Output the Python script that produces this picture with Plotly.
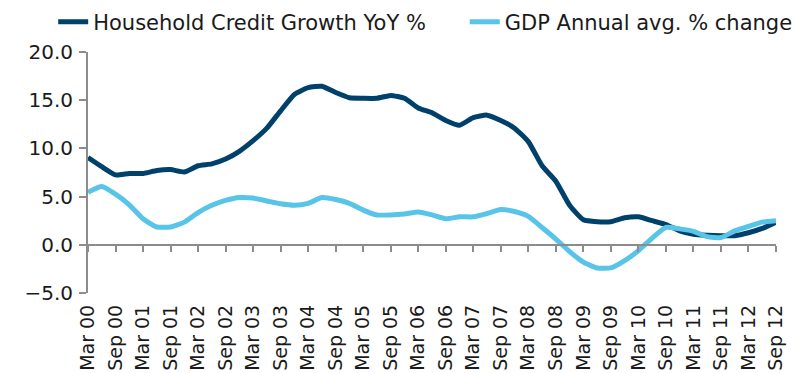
import plotly.graph_objects as go

# quarterly observations, Mar 2000 .. Sep 2012
years = ['00', '01', '02', '03', '04', '05', '06', '07', '08', '09', '10', '11', '12']
months = ['Mar', 'Jun', 'Sep', 'Dec']
quarters = [f'{m} {y}' for y in years for m in months][:51]

tick_labels = ['Mar 00', 'Sep 00', 'Mar 01', 'Sep 01', 'Mar 02', 'Sep 02', 'Mar 03',
               'Sep 03', 'Mar 04', 'Sep 04', 'Mar 05', 'Sep 05', 'Mar 06', 'Sep 06',
               'Mar 07', 'Sep 07', 'Mar 08', 'Sep 08', 'Mar 09', 'Sep 09', 'Mar 10',
               'Sep 10', 'Mar 11', 'Sep 11', 'Mar 12', 'Sep 12']

credit_growth = [9.05, 8.1, 7.25, 7.4, 7.4, 7.7, 7.8, 7.55, 8.2, 8.4,
                 8.9, 9.7, 10.8, 12.1, 13.9, 15.6, 16.3, 16.45, 15.8, 15.25,
                 15.2, 15.2, 15.5, 15.2, 14.2, 13.7, 12.9, 12.4, 13.2, 13.45,
                 12.9, 12.1, 10.7, 8.2, 6.6, 4.1, 2.6, 2.4, 2.4, 2.8,
                 2.9, 2.5, 2.1, 1.45, 1.1, 1.0, 0.95, 0.95, 1.25, 1.7, 2.35]

gdp_change = [5.45, 6.05, 5.25, 4.15, 2.7, 1.85, 1.85, 2.35, 3.35, 4.1,
              4.6, 4.9, 4.85, 4.55, 4.25, 4.1, 4.3, 4.9, 4.7, 4.3,
              3.6, 3.1, 3.1, 3.2, 3.4, 3.1, 2.7, 2.9, 2.9, 3.25,
              3.65, 3.45, 2.95, 1.8, 0.6, -0.7, -1.8, -2.4, -2.4, -1.65,
              -0.6, 0.7, 1.8, 1.65, 1.4, 0.85, 0.75, 1.45, 1.9, 2.35, 2.5]

DARK = '#00416b'
LIGHT = '#58c4e8'
GREY = '#8c8c8c'
FONT = 'DejaVu Sans'

fig = go.Figure()
fig.add_trace(go.Scatter(x=quarters, y=credit_growth, name='Household Credit Growth YoY %',
                         mode='lines', legend='legend',
                         line=dict(color=DARK, width=5, shape='spline', smoothing=0.5)))
fig.add_trace(go.Scatter(x=quarters, y=gdp_change, name='GDP Annual avg. % change',
                         mode='lines', legend='legend2',
                         line=dict(color=LIGHT, width=5, shape='spline', smoothing=0.5)))
# carrier for the label axis at the bottom
fig.add_trace(go.Scatter(x=quarters, y=[None] * len(quarters), xaxis='x2', mode='lines',
                         showlegend=False, hoverinfo='skip'))

leg = dict(orientation='h', xref='container', yref='container', y=0.962,
           xanchor='left', yanchor='middle', font=dict(size=21),
           bgcolor='rgba(0,0,0,0)', itemwidth=30)

fig.update_layout(
    width=807, height=373,
    margin=dict(l=80, r=39, t=44, b=88, autoexpand=False),
    paper_bgcolor='white', plot_bgcolor='white',
    font=dict(family=FONT, size=20, color='#1a1a1a'),
    showlegend=True,
    legend=dict(leg, x=0.056),
    legend2=dict(leg, x=0.566),
    xaxis=dict(type='category', range=[0, len(quarters) - 1], anchor='free', position=0.2,
               showline=True, linecolor=GREY, linewidth=2,
               ticks='outside', ticklen=6, tickwidth=2, tickcolor=GREY,
               tickvals=tick_labels, showticklabels=False, showgrid=False, zeroline=False),
    xaxis2=dict(type='category', range=[0, len(quarters) - 1], overlaying='x', anchor='y', side='bottom',
                showline=False, ticks='', tickvals=tick_labels, ticktext=tick_labels,
                tickangle=-90, showgrid=False, zeroline=False, tickfont=dict(size=19),
                ticklabelstandoff=7),
    yaxis=dict(range=[-5, 20], dtick=5, tickformat='.1f', showline=True, linecolor=GREY, linewidth=2,
               ticks='outside', ticklen=7, tickwidth=2, tickcolor=GREY, showgrid=False,
               zeroline=False, ticklabelstandoff=2),
)

fig.write_html('out.html')
